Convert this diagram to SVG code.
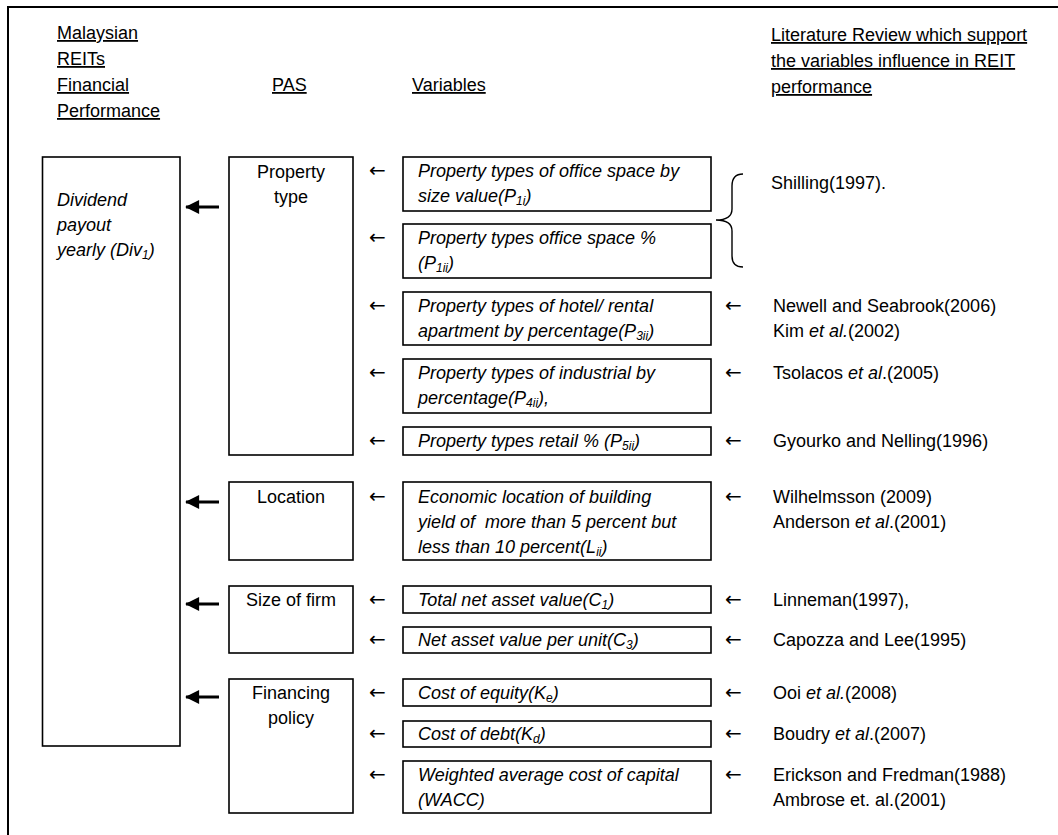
<svg xmlns="http://www.w3.org/2000/svg" width="1058" height="835" viewBox="0 0 1058 835">
<defs>
<style>
text{font-family:"Liberation Sans",Arial,sans-serif;font-size:18px;fill:#000}
.u{text-decoration:underline}
.i{font-style:italic}
.c{text-anchor:middle}
.box{fill:#fff;stroke:#000;stroke-width:1.6}
.frame{stroke:#000;stroke-width:2;fill:none}
.thick{stroke:#000;stroke-width:2.8;fill:none}
.sub{font-size:12px}
.brace{fill:none;stroke:#000;stroke-width:1.4}
text.ar{font-family:"DejaVu Sans",sans-serif;font-size:20px}
</style>
<marker id="ahBig" viewBox="0 0 16 16" refX="15" refY="8" markerWidth="16" markerHeight="14" orient="auto" markerUnits="userSpaceOnUse">
<path d="M0,0 L16,8 L0,16 Z" fill="#000"/>
</marker>
</defs>
<g id="frame">
<path class="frame" d="M8,835 L8,7 L1058,7"/>
</g>
<g id="headers">
<text class="u" x="57" y="39">Malaysian</text>
<text class="u" x="57" y="65">REITs</text>
<text class="u" x="57" y="91">Financial</text>
<text class="u" x="57" y="117">Performance</text>
<text class="u" x="272" y="91">PAS</text>
<text class="u" x="412" y="91">Variables</text>
<text class="u" x="771" y="41">Literature Review which support</text>
<text class="u" x="771" y="67">the variables influence in REIT</text>
<text class="u" x="771" y="93">performance</text>
</g>
<g id="node-dividend">
<rect class="box" x="42.5" y="157" width="137.5" height="589"/>
<text class="i" x="57" y="206">Dividend</text>
<text class="i" x="57" y="231">payout</text>
<text class="i" x="57" y="256">yearly (Div<tspan class="sub" dy="3">1</tspan><tspan dy="-3">)</tspan></text>
</g>
<g id="node-property-type">
<rect class="box" x="229" y="157" width="124" height="298"/>
<text class="c" x="291" y="178">Property</text>
<text class="c" x="291" y="203">type</text>
</g>
<g id="node-location">
<rect class="box" x="229" y="482" width="124" height="78"/>
<text class="c" x="291" y="503">Location</text>
</g>
<g id="node-size-of-firm">
<rect class="box" x="229" y="586" width="124" height="67"/>
<text class="c" x="291" y="606">Size of firm</text>
</g>
<g id="node-financing-policy">
<rect class="box" x="229" y="679" width="124" height="134"/>
<text class="c" x="291" y="699">Financing</text>
<text class="c" x="291" y="724">policy</text>
</g>
<g id="node-p1i">
<rect class="box" x="403" y="157" width="308" height="54"/>
<text class="i" x="418" y="177">Property types of office space by</text>
<text class="i" x="418" y="202">size value(P<tspan class="sub" dy="3">1i</tspan><tspan dy="-3">)</tspan></text>
</g>
<g id="node-p1ii">
<rect class="box" x="403" y="224" width="308" height="54"/>
<text class="i" x="418" y="244">Property types office space %</text>
<text class="i" x="418" y="269">(P<tspan class="sub" dy="3">1ii</tspan><tspan dy="-3">)</tspan></text>
</g>
<g id="node-p3ii">
<rect class="box" x="403" y="292" width="308" height="53"/>
<text class="i" x="418" y="312">Property types of hotel/ rental</text>
<text class="i" x="418" y="337">apartment by percentage(P<tspan class="sub" dy="3">3ii</tspan><tspan dy="-3">)</tspan></text>
</g>
<g id="node-p4ii">
<rect class="box" x="403" y="359" width="308" height="54"/>
<text class="i" x="418" y="379">Property types of industrial by</text>
<text class="i" x="418" y="404">percentage(P<tspan class="sub" dy="3">4ii</tspan><tspan dy="-3">),</tspan></text>
</g>
<g id="node-p5ii">
<rect class="box" x="403" y="427" width="308" height="28"/>
<text class="i" x="418" y="447">Property types retail % (P<tspan class="sub" dy="3">5ii</tspan><tspan dy="-3">)</tspan></text>
</g>
<g id="node-lii">
<rect class="box" x="403" y="482" width="308" height="78"/>
<text class="i" x="418" y="503">Economic location of building</text>
<text class="i" x="418" y="528" xml:space="preserve">yield of  more than 5 percent but</text>
<text class="i" x="418" y="553">less than 10 percent(L<tspan class="sub" dy="3">ii</tspan><tspan dy="-3">)</tspan></text>
</g>
<g id="node-c1">
<rect class="box" x="403" y="586" width="308" height="27"/>
<text class="i" x="418" y="606">Total net asset value(C<tspan class="sub" dy="3">1</tspan><tspan dy="-3">)</tspan></text>
</g>
<g id="node-c3">
<rect class="box" x="403" y="627" width="308" height="26"/>
<text class="i" x="418" y="646">Net asset value per unit(C<tspan class="sub" dy="3">3</tspan><tspan dy="-3">)</tspan></text>
</g>
<g id="node-ke">
<rect class="box" x="403" y="679" width="308" height="27"/>
<text class="i" x="418" y="699">Cost of equity(K<tspan class="sub" dy="3">e</tspan><tspan dy="-3">)</tspan></text>
</g>
<g id="node-kd">
<rect class="box" x="403" y="721" width="308" height="26"/>
<text class="i" x="418" y="740">Cost of debt(K<tspan class="sub" dy="3">d</tspan><tspan dy="-3">)</tspan></text>
</g>
<g id="node-wacc">
<rect class="box" x="403" y="761" width="308" height="52"/>
<text class="i" x="418" y="781">Weighted average cost of capital</text>
<text class="i" x="418" y="806">(WACC)</text>
</g>
<g id="references">
<text x="771" y="189">Shilling(1997).</text>
<text x="773" y="312">Newell and Seabrook(2006)</text>
<text x="773" y="337">Kim <tspan class="i">et al.</tspan>(2002)</text>
<text x="773" y="379">Tsolacos <tspan class="i">et al</tspan>.(2005)</text>
<text x="773" y="447">Gyourko and Nelling(1996)</text>
<text x="773" y="503">Wilhelmsson (2009)</text>
<text x="773" y="528">Anderson <tspan class="i">et al</tspan>.(2001)</text>
<text x="773" y="606">Linneman(1997),</text>
<text x="773" y="646">Capozza and Lee(1995)</text>
<text x="773" y="699">Ooi <tspan class="i">et al.</tspan>(2008)</text>
<text x="773" y="740">Boudry <tspan class="i">et al</tspan>.(2007)</text>
<text x="773" y="781">Erickson and Fredman(1988)</text>
<text x="773" y="806">Ambrose et. al.(2001)</text>
</g>
<g id="connectors">
<path class="thick" d="M219,207 L186,207" marker-end="url(#ahBig)"/>
<path class="thick" d="M219,502 L186,502" marker-end="url(#ahBig)"/>
<path class="thick" d="M219,604 L186,604" marker-end="url(#ahBig)"/>
<path class="thick" d="M219,697 L186,697" marker-end="url(#ahBig)"/>
<path class="brace" d="M743,174 Q732,174 732,186 L732,209 Q732,220 716,220 Q732,220 732,231 L732,256 Q732,267 743,267"/>
<text class="ar" x="369" y="177">←</text>
<text class="ar" x="369" y="244">←</text>
<text class="ar" x="369" y="312">←</text>
<text class="ar" x="369" y="379">←</text>
<text class="ar" x="369" y="447">←</text>
<text class="ar" x="369" y="503">←</text>
<text class="ar" x="369" y="606">←</text>
<text class="ar" x="369" y="646">←</text>
<text class="ar" x="369" y="699">←</text>
<text class="ar" x="369" y="740">←</text>
<text class="ar" x="369" y="781">←</text>
<text class="ar" x="725" y="312">←</text>
<text class="ar" x="725" y="379">←</text>
<text class="ar" x="725" y="447">←</text>
<text class="ar" x="725" y="503">←</text>
<text class="ar" x="725" y="606">←</text>
<text class="ar" x="725" y="646">←</text>
<text class="ar" x="725" y="699">←</text>
<text class="ar" x="725" y="740">←</text>
<text class="ar" x="725" y="781">←</text>
</g>
</svg>
